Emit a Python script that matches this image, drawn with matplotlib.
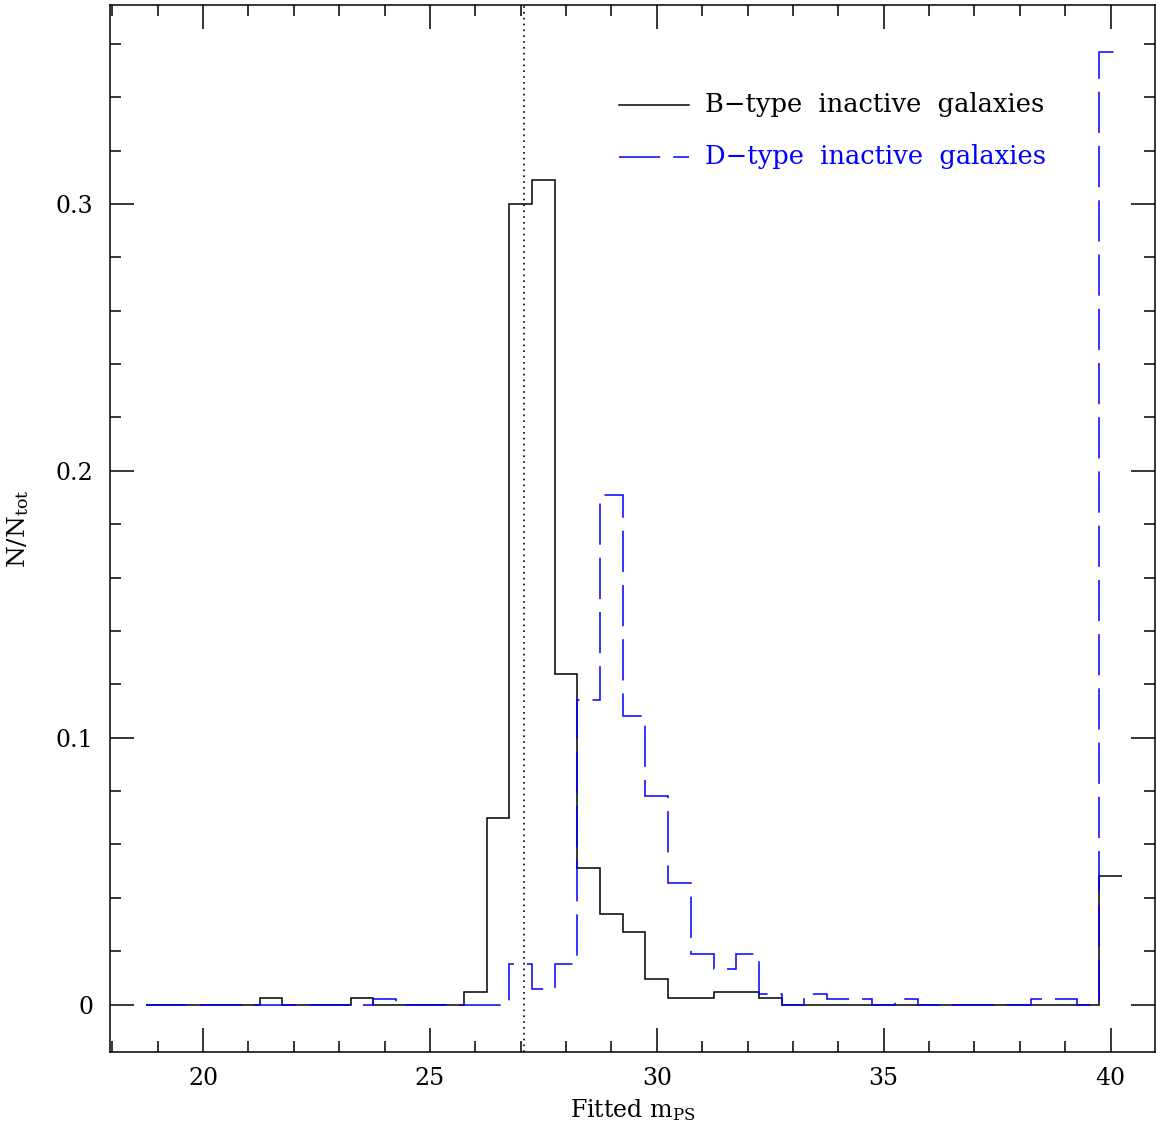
import numpy as np
import matplotlib
matplotlib.use("Agg")
import matplotlib.pyplot as plt
from matplotlib.ticker import MultipleLocator, FormatStrFormatter

plt.rcParams['font.family'] = 'DejaVu Serif'
plt.rcParams['mathtext.fontset'] = 'dejavuserif'

# histogram bins: 0.5 mag wide, 18.75 .. 40.25
bin_edges = np.arange(18.75, 40.26, 0.5)

# B-type inactive galaxies (N/Ntot per bin)
b_type = [0, 0, 0, 0, 0, 0.0025, 0, 0, 0, 0.0025,
          0, 0, 0, 0, 0.0048, 0.070, 0.300, 0.309, 0.124, 0.051,
          0.034, 0.027, 0.0097, 0.0025, 0.0025, 0.0048, 0.0048, 0.0025, 0, 0,
          0, 0, 0, 0, 0, 0, 0, 0, 0, 0,
          0, 0, 0.048]

# D-type inactive galaxies
d_type = [0, 0, 0, 0, 0, 0, 0, 0, 0, 0,
          0.0019, 0, 0, 0, 0, 0, 0.0152, 0.0057, 0.0152, 0.114,
          0.191, 0.108, 0.078, 0.0457, 0.019, 0.0133, 0.019, 0.0038, 0, 0.0038,
          0.0019, 0.0019, 0, 0.0019, 0, 0, 0, 0, 0, 0.0019,
          0.0019, 0, 0.357]

cut_mag = 27.07

fig = plt.figure(figsize=(11.56, 11.30), dpi=100)
ax = fig.add_axes([0.0952, 0.069, 0.904, 0.9265])

ax.stairs(b_type, bin_edges, baseline=None, color='black', lw=1.1)
ax.stairs(d_type, bin_edges, baseline=None, color='blue', lw=1.1,
          linestyle=(0, (27, 8.5)))
ax.axvline(cut_mag, color='black', lw=1.2, linestyle=(0, (1, 2.5)))

ax.set_xlim(17.95, 40.98)
ax.set_ylim(-0.0178, 0.3745)

ax.xaxis.set_major_locator(MultipleLocator(5))
ax.xaxis.set_minor_locator(MultipleLocator(1))
ax.yaxis.set_major_locator(MultipleLocator(0.1))
ax.yaxis.set_minor_locator(MultipleLocator(0.02))
ax.yaxis.set_major_formatter(FormatStrFormatter('%g'))
ax.tick_params(which='both', direction='in', top=True, right=True,
               width=1.1, labelsize=17)
ax.tick_params(axis='x', pad=11)
ax.tick_params(axis='y', pad=12)
ax.tick_params(which='major', length=17)
ax.tick_params(which='minor', length=8)
for s in ax.spines.values():
    s.set_linewidth(1.1)

ax.set_xlabel(r'Fitted m$_{\rm PS}$', fontsize=17)
ax.set_ylabel(r'N/N$_{\rm tot}$', fontsize=18)
ax.xaxis.label.set_va('center')
ax.yaxis.label.set_va('center')
ax.xaxis.set_label_coords(0.5, -0.055)
ax.yaxis.set_label_coords(-0.088, 0.5)

# legend drawn by hand
ax.plot([0.487, 0.554], [0.905, 0.905], transform=ax.transAxes, color='black', lw=1.1)
ax.plot([0.487, 0.554], [0.855, 0.855], transform=ax.transAxes, color='blue', lw=1.1,
        linestyle=(0, (27, 8.5)))
ax.text(0.569, 0.905, 'B\u2212type  inactive  galaxies', transform=ax.transAxes,
        fontsize=18.5, va='center', ha='left', color='black')
ax.text(0.569, 0.855, 'D\u2212type  inactive  galaxies', transform=ax.transAxes,
        fontsize=18.5, va='center', ha='left', color='blue')

fig.savefig('out.png', dpi=100)
